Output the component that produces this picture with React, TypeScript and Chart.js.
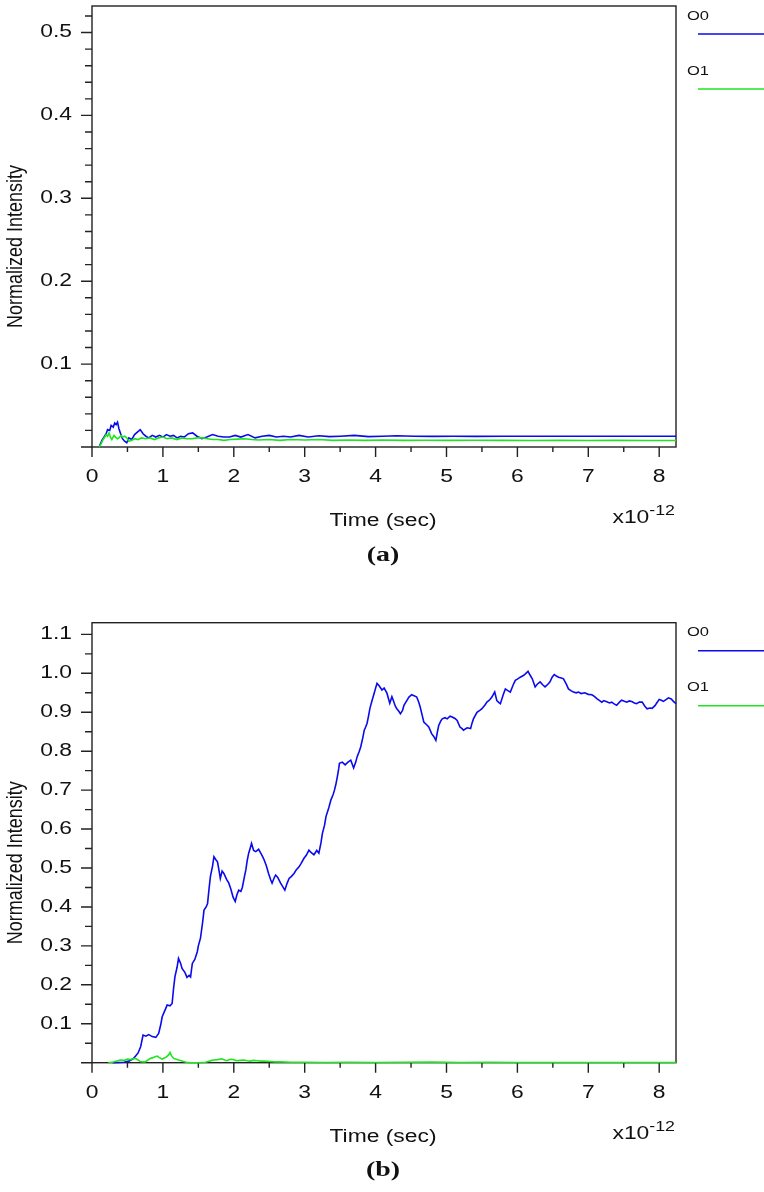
import React, { useEffect, useRef } from "react";
import { Chart, registerables } from "chart.js";

Chart.register(...registerables);

// ---------------- data ----------------
const SERIES_NAMES = ["O0", "O1"];
const X_MAX = 8.237; // x10^-12 s
const X_TICK_LABELS = [0, 1, 2, 3, 4, 5, 6, 7, 8];
const TOP_Y_MAX = 0.532;
const BOTTOM_Y_MAX = 1.13;
const TOP_Y_LABELS = [0.1, 0.2, 0.3, 0.4, 0.5];
const BOTTOM_Y_LABELS = [0.1, 0.2, 0.3, 0.4, 0.5, 0.6, 0.7, 0.8, 0.9, 1.0, 1.1];

// panel (a)
const topO0: [number, number][] = [
  [0.10, 0.000], [0.14, 0.008], [0.17, 0.012], [0.20, 0.016], [0.22, 0.021], [0.25, 0.020], [0.27, 0.026], [0.30, 0.024],
  [0.32, 0.029], [0.34, 0.027], [0.36, 0.030], [0.38, 0.022], [0.40, 0.017], [0.43, 0.010], [0.46, 0.007], [0.49, 0.005],
  [0.52, 0.011], [0.56, 0.009], [0.60, 0.015], [0.64, 0.018], [0.68, 0.021], [0.72, 0.016], [0.76, 0.013], [0.80, 0.011],
  [0.85, 0.014], [0.90, 0.012], [0.95, 0.014], [1.00, 0.012], [1.05, 0.015], [1.10, 0.013], [1.15, 0.014], [1.20, 0.011],
  [1.25, 0.013], [1.30, 0.012], [1.36, 0.016], [1.42, 0.017], [1.48, 0.013], [1.55, 0.010], [1.62, 0.012], [1.70, 0.015],
  [1.78, 0.013], [1.86, 0.012], [1.94, 0.012], [2.02, 0.014], [2.10, 0.012], [2.20, 0.015], [2.30, 0.011], [2.40, 0.013],
  [2.50, 0.014], [2.60, 0.012], [2.70, 0.013], [2.80, 0.012], [2.92, 0.014], [3.05, 0.012], [3.20, 0.0135], [3.35, 0.0125],
  [3.50, 0.013], [3.70, 0.014], [3.90, 0.0125], [4.10, 0.013], [4.30, 0.0135], [4.55, 0.013], [4.80, 0.0128], [5.10, 0.013],
  [5.40, 0.0128], [5.80, 0.013], [6.20, 0.013], [6.60, 0.013], [7.00, 0.013], [7.40, 0.013], [7.80, 0.013], [8.237, 0.013],
];
const topO1: [number, number][] = [
  [0.10, 0.000], [0.13, 0.004], [0.15, 0.008], [0.18, 0.012], [0.20, 0.015], [0.22, 0.013], [0.24, 0.017], [0.26, 0.012],
  [0.28, 0.009], [0.31, 0.014], [0.33, 0.012], [0.36, 0.010], [0.38, 0.011], [0.41, 0.014], [0.43, 0.012], [0.46, 0.013],
  [0.49, 0.011], [0.52, 0.007], [0.56, 0.008], [0.60, 0.010], [0.65, 0.009], [0.70, 0.011], [0.76, 0.010], [0.82, 0.011],
  [0.88, 0.009], [0.94, 0.011], [1.00, 0.012], [1.06, 0.010], [1.12, 0.011], [1.20, 0.009], [1.27, 0.011], [1.34, 0.010],
  [1.41, 0.010], [1.48, 0.011], [1.56, 0.011], [1.63, 0.010], [1.70, 0.009], [1.78, 0.009], [1.86, 0.008], [1.95, 0.009],
  [2.05, 0.0095], [2.15, 0.010], [2.25, 0.009], [2.35, 0.0085], [2.50, 0.009], [2.65, 0.008], [2.80, 0.009], [3.00, 0.0085],
  [3.20, 0.009], [3.40, 0.008], [3.60, 0.0085], [3.85, 0.008], [4.10, 0.0085], [4.40, 0.008], [4.70, 0.0082], [5.00, 0.008],
  [5.40, 0.0082], [5.80, 0.008], [6.20, 0.0078], [6.60, 0.008], [7.00, 0.0078], [7.40, 0.008], [7.80, 0.0078], [8.237, 0.0078],
];

// panel (b)
const bottomO0: [number, number][] = [
  [0.29, 0], [0.45, 0.001], [0.52, 0.004], [0.58, 0.010], [0.615, 0.017], [0.65, 0.025], [0.686, 0.041], [0.72, 0.071],
  [0.76, 0.068], [0.80, 0.072], [0.85, 0.067], [0.90, 0.065], [0.94, 0.075], [0.97, 0.098], [0.99, 0.118], [1.03, 0.135],
  [1.06, 0.148], [1.10, 0.146], [1.13, 0.152], [1.15, 0.190], [1.17, 0.221], [1.20, 0.245], [1.22, 0.268], [1.25, 0.255],
  [1.27, 0.242], [1.31, 0.232], [1.34, 0.219], [1.37, 0.224], [1.39, 0.220], [1.415, 0.255], [1.45, 0.265], [1.485, 0.285],
  [1.50, 0.300], [1.53, 0.320], [1.56, 0.360], [1.58, 0.392], [1.61, 0.400], [1.63, 0.409], [1.65, 0.445], [1.67, 0.478],
  [1.70, 0.505], [1.72, 0.529], [1.745, 0.522], [1.77, 0.516], [1.79, 0.495], [1.81, 0.473], [1.835, 0.492], [1.86, 0.486],
  [1.90, 0.470], [1.93, 0.461], [1.96, 0.445], [1.99, 0.425], [2.02, 0.414], [2.045, 0.432], [2.07, 0.443], [2.10, 0.440],
  [2.12, 0.450], [2.15, 0.478], [2.17, 0.495], [2.19, 0.520], [2.21, 0.538], [2.23, 0.550], [2.25, 0.563], [2.28, 0.545],
  [2.31, 0.542], [2.35, 0.548], [2.38, 0.538], [2.41, 0.528], [2.43, 0.520], [2.46, 0.505], [2.49, 0.486], [2.52, 0.470],
  [2.54, 0.461], [2.57, 0.475], [2.59, 0.482], [2.62, 0.476], [2.66, 0.461], [2.69, 0.452], [2.72, 0.443], [2.75, 0.460],
  [2.78, 0.473], [2.81, 0.478], [2.85, 0.486], [2.88, 0.495], [2.92, 0.503], [2.95, 0.512], [2.99, 0.525], [3.02, 0.532],
  [3.06, 0.546], [3.09, 0.540], [3.13, 0.534], [3.17, 0.545], [3.20, 0.538], [3.23, 0.565], [3.25, 0.589], [3.28, 0.610],
  [3.30, 0.632], [3.34, 0.655], [3.37, 0.675], [3.40, 0.688], [3.42, 0.700], [3.44, 0.715], [3.46, 0.734], [3.48, 0.755],
  [3.49, 0.769], [3.53, 0.772], [3.57, 0.765], [3.61, 0.772], [3.65, 0.777], [3.69, 0.757], [3.72, 0.772], [3.74, 0.786],
  [3.77, 0.800], [3.79, 0.811], [3.82, 0.835], [3.84, 0.854], [3.86, 0.862], [3.88, 0.872], [3.90, 0.890], [3.92, 0.910],
  [3.95, 0.930], [3.98, 0.949], [4.00, 0.962], [4.02, 0.974], [4.05, 0.968], [4.09, 0.957], [4.12, 0.962], [4.16, 0.949],
  [4.20, 0.923], [4.23, 0.940], [4.25, 0.930], [4.28, 0.915], [4.30, 0.909], [4.33, 0.902], [4.35, 0.896], [4.38, 0.905],
  [4.40, 0.918], [4.44, 0.930], [4.47, 0.939], [4.51, 0.945], [4.55, 0.942], [4.58, 0.939], [4.61, 0.925], [4.63, 0.913],
  [4.66, 0.890], [4.68, 0.875], [4.72, 0.868], [4.75, 0.862], [4.79, 0.845], [4.82, 0.838], [4.85, 0.828], [4.87, 0.848],
  [4.89, 0.866], [4.92, 0.878], [4.94, 0.883], [4.98, 0.886], [5.01, 0.883], [5.05, 0.890], [5.08, 0.888], [5.12, 0.884],
  [5.15, 0.879], [5.19, 0.862], [5.22, 0.858], [5.24, 0.854], [5.29, 0.860], [5.34, 0.858], [5.36, 0.872], [5.38, 0.883],
  [5.43, 0.900], [5.47, 0.905], [5.50, 0.909], [5.54, 0.918], [5.57, 0.926], [5.61, 0.932], [5.64, 0.939], [5.68, 0.952],
  [5.71, 0.930], [5.74, 0.925], [5.76, 0.922], [5.80, 0.945], [5.83, 0.960], [5.87, 0.955], [5.90, 0.952], [5.94, 0.970],
  [5.97, 0.982], [6.00, 0.985], [6.04, 0.990], [6.09, 0.995], [6.12, 1.000], [6.15, 1.005], [6.18, 0.995], [6.21, 0.986],
  [6.25, 0.965], [6.28, 0.972], [6.32, 0.978], [6.36, 0.970], [6.39, 0.965], [6.43, 0.972], [6.46, 0.978], [6.49, 0.990],
  [6.52, 0.997], [6.55, 0.993], [6.58, 0.990], [6.62, 0.988], [6.65, 0.986], [6.69, 0.972], [6.72, 0.960], [6.76, 0.955],
  [6.79, 0.952], [6.83, 0.950], [6.86, 0.952], [6.90, 0.948], [6.95, 0.950], [7.00, 0.946], [7.05, 0.945], [7.09, 0.940],
  [7.12, 0.935], [7.16, 0.930], [7.19, 0.926], [7.22, 0.930], [7.26, 0.927], [7.30, 0.924], [7.33, 0.926], [7.37, 0.921],
  [7.40, 0.918], [7.44, 0.926], [7.47, 0.931], [7.51, 0.928], [7.54, 0.926], [7.58, 0.929], [7.62, 0.927], [7.65, 0.924],
  [7.68, 0.922], [7.72, 0.926], [7.76, 0.926], [7.80, 0.915], [7.83, 0.909], [7.87, 0.911], [7.90, 0.910], [7.94, 0.917],
  [7.97, 0.925], [8.00, 0.933], [8.03, 0.931], [8.06, 0.928], [8.10, 0.933], [8.13, 0.937], [8.17, 0.934], [8.20, 0.928],
  [8.237, 0.922],
];
const bottomO1: [number, number][] = [
  [0.23, 0], [0.30, 0.002], [0.36, 0.005], [0.40, 0.007], [0.46, 0.006], [0.50, 0.009], [0.54, 0.008], [0.58, 0.010],
  [0.61, 0.011], [0.65, 0.007], [0.68, 0.003], [0.72, 0.002], [0.75, 0.002], [0.79, 0.007], [0.82, 0.011], [0.86, 0.013],
  [0.89, 0.015], [0.92, 0.017], [0.95, 0.013], [0.99, 0.009], [1.02, 0.012], [1.05, 0.015], [1.08, 0.020], [1.10, 0.026],
  [1.12, 0.018], [1.15, 0.011], [1.19, 0.009], [1.22, 0.007], [1.26, 0.005], [1.29, 0.003], [1.33, 0.001], [1.40, 0],
  [1.50, 0], [1.60, 0.001], [1.65, 0.004], [1.69, 0.006], [1.72, 0.007], [1.77, 0.008], [1.83, 0.010], [1.87, 0.007],
  [1.90, 0.005], [1.94, 0.008], [1.97, 0.009], [2.01, 0.007], [2.04, 0.005], [2.09, 0.006], [2.14, 0.007], [2.19, 0.005],
  [2.23, 0.004], [2.28, 0.006], [2.33, 0.005], [2.38, 0.004], [2.44, 0.004], [2.51, 0.003], [2.58, 0.002], [2.66, 0.002],
  [2.80, 0.001], [3.00, 0.001], [3.30, 0.0005], [3.60, 0.001], [4.00, 0.0005], [4.40, 0.001], [4.80, 0.0015], [5.20, 0.0005],
  [5.60, 0.001], [6.00, 0.0005], [6.50, 0.0005], [7.00, 0.0005], [7.50, 0.0005], [8.00, 0.0005], [8.237, 0.0005],
];

// ---------------- style ----------------
const BLUE = "#0a0aee";
const GREEN = "#1ee61e";
const AXIS = "#222222";
const SANS = '"Liberation Sans", Arial, sans-serif';
const SERIF = '"Liberation Serif", "Times New Roman", serif';
const SX = 1.27;

function txt(ctx: CanvasRenderingContext2D, s: string, x: number, y: number, font: string,
  align: CanvasTextAlign, base: CanvasTextBaseline, rot = 0) {
  ctx.save();
  ctx.translate(x, y);
  ctx.scale(SX, 1);
  if (rot) ctx.rotate(rot);
  ctx.font = font;
  ctx.fillStyle = "#111";
  ctx.textAlign = align;
  ctx.textBaseline = base;
  ctx.fillText(s, 0, 0);
  ctx.restore();
}

type PanelCfg = {
  height: number; top: number; bottom: number; yMax: number; yMinor: number; yMajorEvery: number;
  yLabels: number[]; caption: string; o0: [number, number][]; o1: [number, number][];
};

function makePlugin(cfg: PanelCfg) {
  return {
    id: "panelDeco",
    beforeDatasetsDraw(chart: any) {
      const ctx = chart.ctx as CanvasRenderingContext2D;
      const { left, right, top, bottom } = chart.chartArea;
      const xs = chart.scales.x, ys = chart.scales.y;
      ctx.save();
      ctx.strokeStyle = AXIS;
      ctx.lineWidth = 1.4;
      ctx.strokeRect(left, top, right - left, bottom - top);
      ctx.beginPath();
      for (let i = 0; i * 0.5 <= X_MAX + 1e-9; i++) {
        const px = xs.getPixelForValue(i * 0.5);
        const len = i % 2 === 0 ? 10 : 5;
        ctx.moveTo(px, bottom);
        ctx.lineTo(px, bottom + len);
      }
      for (let i = 0; i * cfg.yMinor <= cfg.yMax + 1e-9; i++) {
        const py = ys.getPixelForValue(i * cfg.yMinor);
        const len = i % cfg.yMajorEvery === 0 ? 11 : 7;
        ctx.moveTo(left, py);
        ctx.lineTo(left - len, py);
      }
      ctx.stroke();
      ctx.restore();
    },
    afterDraw(chart: any) {
      const ctx = chart.ctx as CanvasRenderingContext2D;
      const { left, right, top, bottom } = chart.chartArea;
      const xs = chart.scales.x, ys = chart.scales.y;
      const tickFont = `18px ${SANS}`;
      cfg.yLabels.forEach((v) => {
        txt(ctx, v.toFixed(1), left - 20, ys.getPixelForValue(v), tickFont, "right", "middle");
      });
      X_TICK_LABELS.forEach((v) => {
        txt(ctx, String(v), xs.getPixelForValue(v), bottom + 30, tickFont, "center", "middle");
      });
      txt(ctx, "Time (sec)", (left + right) / 2 - 1, bottom + 74, `18px ${SANS}`, "center", "middle");
      // x10^-12
      ctx.save();
      ctx.font = `14px ${SANS}`;
      const supW = ctx.measureText("-12").width * SX;
      ctx.restore();
      txt(ctx, "-12", right - 1, bottom + 68, `14px ${SANS}`, "right", "alphabetic");
      txt(ctx, "x10", right - 1 - supW, bottom + 76, `18px ${SANS}`, "right", "alphabetic");
      // y title
      txt(ctx, "Normalized Intensity", 16, (top + bottom) / 2 + 20, `18px ${SANS}`, "center", "middle", -Math.PI / 2);
      // legend
      const colors = [BLUE, GREEN];
      SERIES_NAMES.forEach((name, i) => {
        const base = top + i * 55;
        txt(ctx, name, 687, base + 10, `13px ${SANS}`, "left", "middle");
        ctx.save();
        ctx.strokeStyle = colors[i];
        ctx.lineWidth = 1.5;
        ctx.beginPath();
        ctx.moveTo(698, base + 28);
        ctx.lineTo(764, base + 28);
        ctx.stroke();
        ctx.restore();
      });
      // caption
      txt(ctx, cfg.caption, (left + right) / 2 - 1, bottom + 108, `bold 22px ${SERIF}`, "center", "middle");
    },
  };
}

function Panel({ cfg }: { cfg: PanelCfg }) {
  const ref = useRef<HTMLCanvasElement | null>(null);
  useEffect(() => {
    if (!ref.current) return;
    const H = cfg.height;
    const chart = new Chart(ref.current, {
      type: "line",
      data: {
        datasets: [
          {
            label: SERIES_NAMES[1],
            data: cfg.o1.map(([x, y]) => ({ x, y })),
            borderColor: GREEN, borderWidth: 1.6, pointRadius: 0, fill: false, tension: 0, clip: false,
          } as any,
          {
            label: SERIES_NAMES[0],
            data: cfg.o0.map(([x, y]) => ({ x, y })),
            borderColor: BLUE, borderWidth: 1.6, pointRadius: 0, fill: false, tension: 0, clip: false,
          } as any,
        ],
      },
      options: {
        responsive: false,
        animation: false,
        devicePixelRatio: 1,
        events: [],
        layout: { padding: { top: cfg.top, right: 88, left: 0, bottom: 0 } },
        plugins: { legend: { display: false }, tooltip: { enabled: false }, title: { display: false } },
        scales: {
          x: {
            type: "linear", min: 0, max: X_MAX,
            ticks: { display: false }, grid: { display: false }, border: { display: false },
            afterFit: (s: any) => { s.height = H - cfg.bottom; },
          },
          y: {
            type: "linear", min: 0, max: cfg.yMax,
            ticks: { display: false }, grid: { display: false }, border: { display: false },
            afterFit: (s: any) => { s.width = 92; },
          },
        },
      } as any,
      plugins: [makePlugin(cfg)],
    });
    return () => chart.destroy();
  }, [cfg]);
  return <canvas ref={ref} width={764} height={cfg.height} style={{ display: "block", width: 764, height: cfg.height }} />;
}

const PANEL_A: PanelCfg = {
  height: 580, top: 6, bottom: 447, yMax: TOP_Y_MAX, yMinor: 0.02, yMajorEvery: 5,
  yLabels: TOP_Y_LABELS, caption: "(a)", o0: topO0, o1: topO1,
};
const PANEL_B: PanelCfg = {
  height: 612, top: 42.7, bottom: 482.7, yMax: BOTTOM_Y_MAX, yMinor: 0.05, yMajorEvery: 2,
  yLabels: BOTTOM_Y_LABELS, caption: "(b)", o0: bottomO0, o1: bottomO1,
};

export default function App() {
  return (
    <div style={{ position: "absolute", left: 0, top: 0, width: 764, height: 1192, background: "#fff" }}>
      <Panel cfg={PANEL_A} />
      <Panel cfg={PANEL_B} />
    </div>
  );
}
